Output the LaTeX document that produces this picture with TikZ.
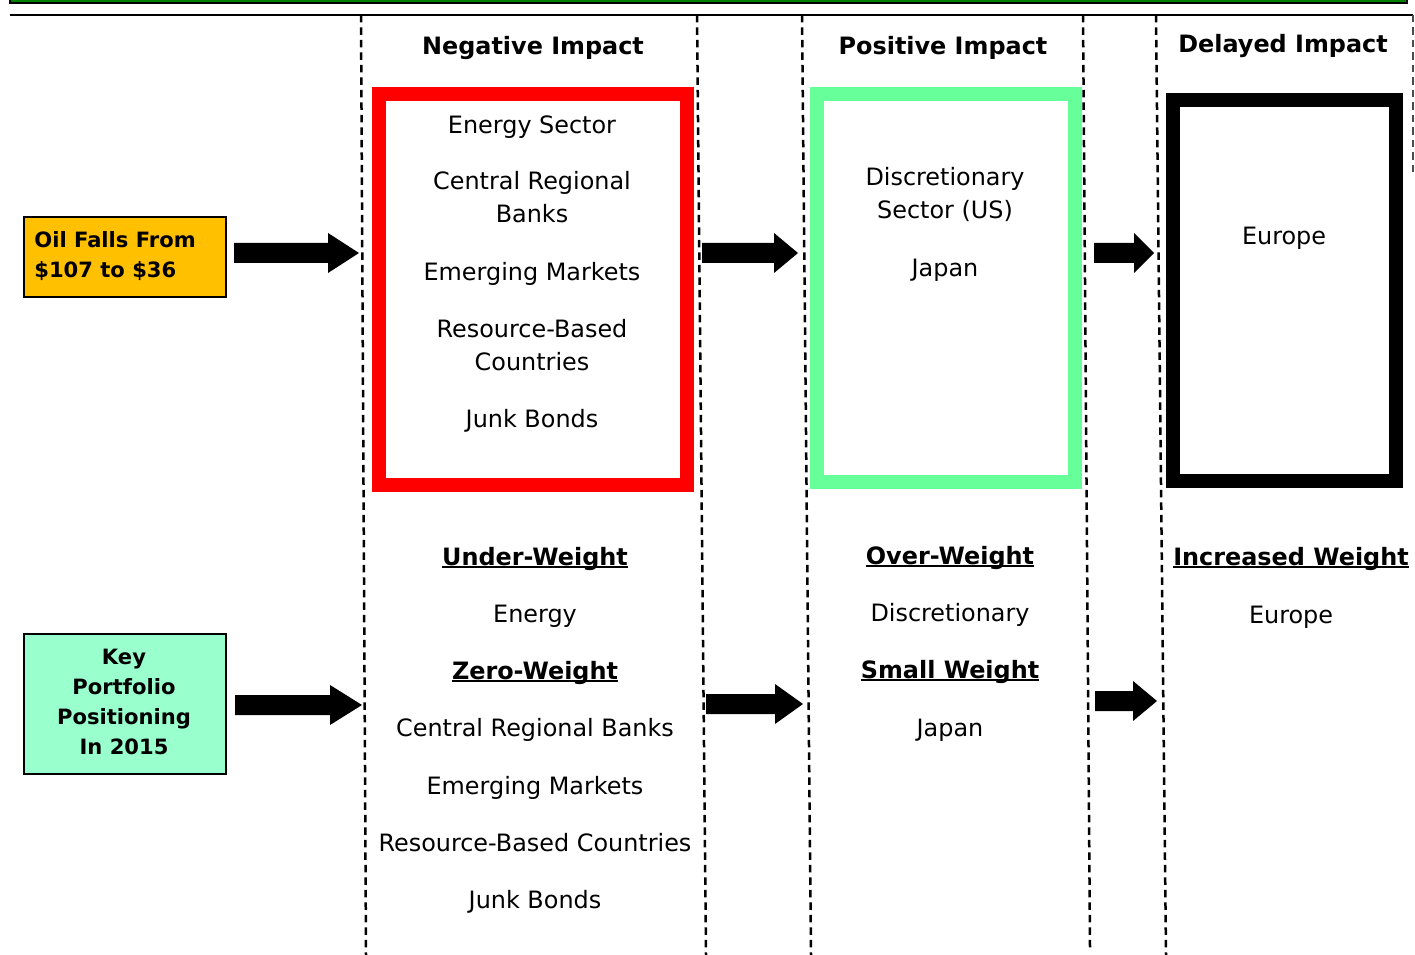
\documentclass[tikz,border=0pt]{standalone}
\usepackage{fontspec}
\setmainfont{DejaVu Sans}
\usetikzlibrary{calc}
\definecolor{redframe}{HTML}{FF0000}
\definecolor{greenframe}{HTML}{66FF99}
\definecolor{oilfill}{HTML}{FFC000}
\definecolor{keyfill}{HTML}{99FFCC}
\definecolor{topgreen}{HTML}{008000}
\newcommand{\ulbold}[1]{\setbox0=\hbox{\bfseries #1}\rlap{\rule[-1.9pt]{\wd0}{1.2pt}}\box0}
\newcommand{\blockarr}[3]{\fill ($(#1)+(0,-10)$) -- ($(#2)+(-#3,-10)$) -- ($(#2)+(-#3,-20)$) -- (#2) -- ($(#2)+(-#3,20)$) -- ($(#2)+(-#3,10)$) -- ($(#1)+(0,10)$) -- cycle;}
\begin{document}
\begin{tikzpicture}[x=0.02cm,y=-0.02cm,
  txt/.style={anchor=base,inner sep=0pt,font=\fontsize{13.6}{16}\selectfont},
  hdr/.style={anchor=base,inner sep=0pt,font=\fontsize{13.6}{16}\selectfont\bfseries},
  boxtxt/.style={anchor=base,inner sep=0pt,font=\fontsize{12}{14}\selectfont\bfseries},
  frame/.style={draw,line width=0.28cm,inner sep=0pt},
  vdash/.style={line width=0.05cm,dash pattern=on 0.15cm off 0.1cm},
  srcbox/.style={draw,line width=0.04cm,inner sep=0pt,minimum width=4.04cm}]
\useasboundingbox (0,0) rectangle (1415,955);
\clip (0,0) rectangle (1415,955);
% top rules
\draw[fill=topgreen,line width=0.04cm] (10,-20) rectangle (1407,3);
\draw[line width=0.035cm] (10,15) -- (1413,15);
\draw[vdash,black!70] (1413,15) -- (1413,175);
% column separators
\draw[vdash] (361,15) -- (366,955);
\draw[vdash] (697,15) -- (706,955);
\draw[vdash] (802,15) -- (811,955);
\draw[vdash] (1083,15) -- (1090,948);
\draw[vdash] (1156,15) -- (1166,955);
% headers
\node[hdr] (hneg) at (533,55) {Negative Impact};
\node[hdr] (hpos) at (943,55) {Positive Impact};
\node[hdr] (hdel) at (1283,53) {Delayed Impact};
% frames
\node[frame,draw=redframe,minimum width=6.16cm,minimum height=7.82cm] (neg) at (533,289.5) {};
\node[frame,draw=greenframe,minimum width=5.16cm,minimum height=7.76cm] (pos) at (946,288) {};
\node[frame,draw=black,minimum width=4.46cm,minimum height=7.62cm] (del) at (1284.5,290.5) {};
% negative impact list
\node[txt] (n1) at (532,134) {Energy Sector};
\node[txt] (n2) at (532,190) {Central Regional};
\node[txt] (n2b) at (532,223) {Banks};
\node[txt] (n3) at (532,281) {Emerging Markets};
\node[txt] (n4) at (532,338) {Resource-Based};
\node[txt] (n4b) at (532,371) {Countries};
\node[txt] (n5) at (532,428) {Junk Bonds};
% positive impact list
\node[txt] (p1) at (945,186) {Discretionary};
\node[txt] (p1b) at (945,219) {Sector (US)};
\node[txt] (p2) at (945,277) {Japan};
% delayed
\node[txt] (d1) at (1284,245) {Europe};
% source boxes
\node[srcbox,fill=oilfill,minimum height=1.6cm] (oil) at (125,257) {};
\node[boxtxt,anchor=base west] (oil1) at (34,248) {Oil Falls From};
\node[boxtxt,anchor=base west] (oil2) at (34,278) {\$107 to \$36};
\node[srcbox,fill=keyfill,minimum height=2.8cm] (key) at (125,704) {};
\node[boxtxt] (k1) at (124,664) {Key};
\node[boxtxt] (k2) at (124,694) {Portfolio};
\node[boxtxt] (k3) at (124,724) {Positioning};
\node[boxtxt] (k4) at (124,754) {In 2015};
% lower lists
\node[txt] (u0) at (535,565) {\ulbold{Under-Weight}};
\node[txt] (u1) at (535,622) {Energy};
\node[txt] (z0) at (535,679) {\ulbold{Zero-Weight}};
\node[txt] (z1) at (535,736) {Central Regional Banks};
\node[txt] (z2) at (535,794) {Emerging Markets};
\node[txt] (z3) at (535,851) {Resource-Based Countries};
\node[txt] (z4) at (535,908) {Junk Bonds};
\node[txt] (o0) at (950,564) {\ulbold{Over-Weight}};
\node[txt] (o1) at (950,621) {Discretionary};
\node[txt] (s0) at (950,678) {\ulbold{Small Weight}};
\node[txt] (s1) at (950,736) {Japan};
\node[txt] (i0) at (1291,565) {\ulbold{Increased Weight}};
\node[txt] (i1) at (1291,623) {Europe};
% arrows
\coordinate (a1s) at (234,253); \coordinate (a1e) at (359,253);
\coordinate (a2s) at (702,253); \coordinate (a2e) at (798,253);
\coordinate (a3s) at (1094,253); \coordinate (a3e) at (1154,253);
\coordinate (a4s) at (235,705); \coordinate (a4e) at (362,705);
\coordinate (a5s) at (706,704); \coordinate (a5e) at (803,704);
\coordinate (a6s) at (1095,701); \coordinate (a6e) at (1157,701);
\blockarr{a1s}{a1e}{31}
\blockarr{a2s}{a2e}{24}
\blockarr{a3s}{a3e}{20}
\blockarr{a4s}{a4e}{32}
\blockarr{a5s}{a5e}{28}
\blockarr{a6s}{a6e}{24}
\end{tikzpicture}
\end{document}
